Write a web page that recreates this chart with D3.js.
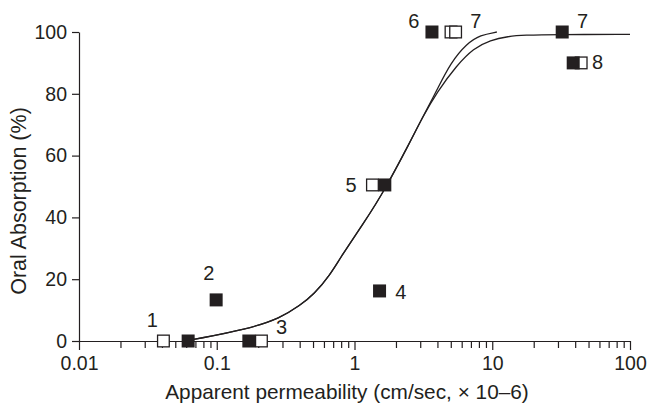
<!DOCTYPE html>
<html>
<head>
<meta charset="utf-8">
<script src="https://cdn.jsdelivr.net/npm/d3@7"></script>
<style>
  body { margin: 0; background: #fff; }
  svg { display: block; font-family: "Liberation Sans", Arial, sans-serif; }
  .axis text { font-size: 19.5px; fill: #231f20; }
  .axis path, .axis line { stroke: #231f20; stroke-width: 1.2; }
</style>
</head>
<body>
<svg id="chart" width="649" height="404"></svg>
<script>
// data (permeability, % absorbed)
const filledPoints = [
  [0.062, 0], [0.099, 13.3], [0.171, 0], [1.52, 16.2],
  [1.66, 50.5], [3.65, 100], [32.2, 100], [38.7, 90]
];
const openPoints = [
  [0.041, 0], [0.211, 0], [1.35, 50.5], [5.02, 100], [5.42, 100], [44.2, 90]
];
// short curve (ends near 10)
const curveA = [
  [0.068, 0.5], [0.166, 3.8], [0.29, 7.4], [0.404, 11.6], [0.506, 15.0],
  [0.668, 21.5], [0.79, 27.0], [1.2, 39.0], [1.63, 48.3], [2.54, 64.5],
  [3.09, 72.1], [3.97, 81.2], [4.96, 89.9], [6.55, 96.3], [8.19, 99.0],
  [10.8, 100]
];
// long curve (plateau to 100)
const curveB = [
  [0.068, 0.5], [0.166, 3.8], [0.29, 7.4], [0.404, 11.6], [0.506, 15.0],
  [0.668, 21.5], [0.79, 27.0], [1.2, 39.0], [1.63, 48.3], [2.54, 64.5],
  [3.09, 72.1], [3.97, 80.6], [5.55, 89.3], [7.31, 94.7], [9.68, 97.4],
  [13.1, 98.6], [16.9, 99.0], [29.3, 99.2], [100, 99.2]
];
const pointLabels = [
  { text: "1", x: 0.034, y: 6.8 },
  { text: "2", x: 0.0877, y: 22.1 },
  { text: "3", x: 0.295, y: 4.4 },
  { text: "4", x: 2.17, y: 15.9 },
  { text: "5", x: 0.946, y: 50.6 },
  { text: "6", x: 2.69, y: 103.6 },
  { text: "7", x: 7.59, y: 103.6 },
  { text: "7", x: 45.3, y: 103.6 },
  { text: "8", x: 58.2, y: 90.4 }
];
const xMajorTicks = [0.01, 0.1, 1, 10, 100];
const xTickLabels = ["0.01", "0.1", "1", "10", "100"];
const yTicks = [0, 20, 40, 60, 80, 100];

const svg = d3.select("svg#chart");
const ink = "#231f20";
const plot = { left: 79, right: 630, top: 32, bottom: 341 };
const squareSize = 13;

const x = d3.scaleLog().domain([0.01, 100]).range([plot.left, plot.right]);
const y = d3.scaleLinear().domain([0, 100]).range([plot.bottom, plot.top]);

// minor ticks 2..9 in every decade
const xMinorTicks = [];
[0.01, 0.1, 1, 10].forEach((d) => {
  for (let k = 2; k <= 9; k++) xMinorTicks.push(d * k);
});

// x axis
svg.append("g")
  .attr("class", "axis")
  .attr("transform", `translate(0,${plot.bottom})`)
  .call(d3.axisBottom(x).tickValues(xMinorTicks).tickSize(7).tickSizeOuter(0).tickFormat(""));
svg.append("g")
  .attr("class", "axis")
  .attr("transform", `translate(0,${plot.bottom})`)
  .call(d3.axisBottom(x)
    .tickValues(xMajorTicks)
    .tickSize(9)
    .tickSizeOuter(0)
    .tickPadding(6)
    .tickFormat((d, i) => xTickLabels[i]));

// y axis
svg.append("g")
  .attr("class", "axis")
  .attr("transform", `translate(${plot.left},0)`)
  .call(d3.axisLeft(y).tickValues(yTicks).tickSize(7).tickSizeOuter(0).tickPadding(5));

// axis titles
svg.append("text")
  .text("Apparent permeability (cm/sec, \u00d7 10\u20136)")
  .attr("x", 347)
  .attr("y", 399)
  .attr("text-anchor", "middle")
  .attr("fill", ink)
  .style("font-size", "20.8px");
svg.append("text")
  .text("Oral Absorption (%)")
  .attr("transform", "translate(26,201) rotate(-90)")
  .attr("text-anchor", "middle")
  .attr("fill", ink)
  .style("font-size", "21.5px");

// fitted curves
const line = d3.line()
  .x((d) => x(d[0]))
  .y((d) => y(d[1]))
  .curve(d3.curveBasis);
[curveA, curveB].forEach((c) => {
  svg.append("path")
    .datum(c)
    .attr("d", line)
    .attr("fill", "none")
    .attr("stroke", ink)
    .attr("stroke-width", 1.3);
});

// open squares under filled ones
svg.selectAll("rect.open")
  .data(openPoints)
  .join("rect")
  .attr("class", "open")
  .attr("x", (d) => x(d[0]) - (squareSize - 1.3) / 2)
  .attr("y", (d) => y(d[1]) - (squareSize - 1.3) / 2)
  .attr("width", squareSize - 1.3)
  .attr("height", squareSize - 1.3)
  .attr("fill", "#fff")
  .attr("stroke", ink)
  .attr("stroke-width", 1.3);
svg.selectAll("rect.filled")
  .data(filledPoints)
  .join("rect")
  .attr("class", "filled")
  .attr("x", (d) => x(d[0]) - squareSize / 2)
  .attr("y", (d) => y(d[1]) - squareSize / 2)
  .attr("width", squareSize)
  .attr("height", squareSize)
  .attr("fill", ink);

// compound numbers
svg.selectAll("text.num")
  .data(pointLabels)
  .join("text")
  .attr("class", "num")
  .text((d) => d.text)
  .attr("x", (d) => x(d.x))
  .attr("y", (d) => y(d.y))
  .attr("text-anchor", "middle")
  .attr("dominant-baseline", "central")
  .attr("fill", ink)
  .style("font-size", "20px");
</script>
</body>
</html>
